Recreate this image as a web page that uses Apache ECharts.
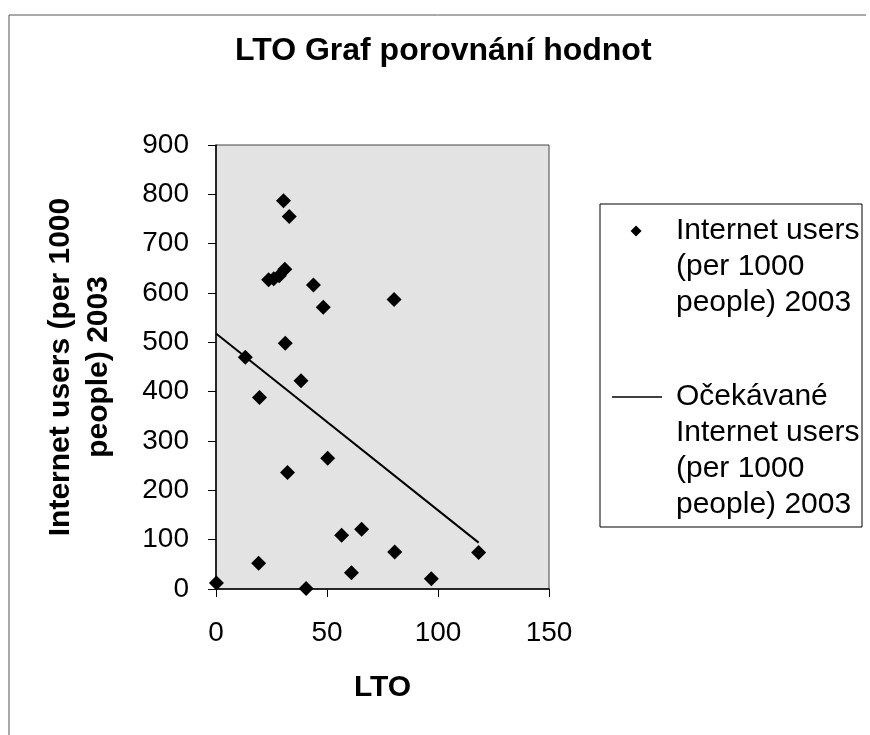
<!DOCTYPE html>
<html>
<head>
<meta charset="utf-8">
<script src="https://cdn.jsdelivr.net/npm/echarts@6/dist/echarts.min.js"></script>
<style>
  html, body { margin: 0; padding: 0; background: #fff; }
  #chart { width: 870px; height: 735px; }
</style>
</head>
<body>
<div id="chart"></div>
<script>
// LTO vs internet users
const lto = [0.2, 13.2, 19.2, 19.6, 23.7, 26, 28.5, 31, 30.4, 33, 31.2, 32.2, 38.3, 40.6, 43.9, 48.3, 50.3, 56.6, 61, 65.6, 80.2, 80.5, 97, 118.3]
const users = [12, 470, 52, 388, 627, 629, 635, 648, 787, 755, 498, 236, 422, 1, 616, 571, 265, 109, 33, 121, 587, 75, 21, 74]

// expected values (trend line)
const trendX = [0, 118.3]
const trendY = [518, 94]

const xTicks = [0, 50, 100, 150]
const yTicks = [0, 100, 200, 300, 400, 500, 600, 700, 800, 900]

const seriesNames = ['Internet users (per 1000 people) 2003', 'Očekávané Internet users (per 1000 people) 2003']
// leading empty lines keep the icon level with the first text line
const legendLabels = ['\n\nInternet users\n(per 1000\npeople) 2003', '\n\n\nOčekávané\nInternet users\n(per 1000\npeople) 2003']

const font = '"Liberation Sans", Arial, sans-serif'

let myChart = echarts.init(document.getElementById('chart'))

myChart.setOption({
  animation: false,
  backgroundColor: '#fff',
  textStyle: { fontFamily: font, color: '#000' },
  title: {
    text: 'LTO Graf porovnání hodnot',
    left: 235,
    top: 35,
    padding: 0,
    textStyle: { fontFamily: font, fontSize: 32, fontWeight: 'bold', color: '#000' }
  },
  grid: {
    left: 216,
    top: 145,
    right: 321,
    bottom: 146,
    containLabel: false,
    outerBoundsMode: 'none',
    show: true,
    backgroundColor: '#e3e3e3',
    borderColor: '#444',
    borderWidth: 1
  },
  legend: {
    orient: 'vertical',
    left: 612,
    top: 141,
    padding: 0,
    itemGap: -50,
    itemWidth: 50,
    itemHeight: 11,
    itemStyle: { opacity: 1 },
    data: [
      // small diamond in the middle of a 50-wide box
      { name: seriesNames[0], icon: 'path://M0,0M18,5.5L24,-0.5L30,5.5L24,11.5ZM50,11' },
      { name: seriesNames[1], icon: 'path://M0,0H50V1.4H0Z' }
    ],
    formatter: name => legendLabels[seriesNames.indexOf(name)],
    textStyle: { fontFamily: font, fontSize: 30, lineHeight: 36, color: '#000', padding: [0, 0, 0, 9] }
  },
  xAxis: {
    type: 'value',
    min: xTicks[0],
    max: xTicks[xTicks.length - 1],
    interval: 50,
    name: 'LTO',
    nameLocation: 'middle',
    nameGap: 84,
    nameTextStyle: { fontFamily: font, fontSize: 30, fontWeight: 'bold', color: '#000' },
    axisLine: { onZero: false, lineStyle: { color: '#000', width: 1.5 } },
    axisTick: { length: 8, lineStyle: { color: '#000' } },
    axisLabel: { margin: 30, fontFamily: font, fontSize: 28, color: '#000' },
    splitLine: { show: false }
  },
  yAxis: {
    type: 'value',
    min: yTicks[0],
    max: yTicks[yTicks.length - 1],
    interval: 100,
    name: 'Internet users (per 1000\npeople) 2003',
    nameLocation: 'middle',
    nameGap: 98,
    nameTextStyle: { fontFamily: font, fontSize: 30, fontWeight: 'bold', lineHeight: 38, color: '#000', align: 'center' },
    axisLine: { show: true, onZero: false, lineStyle: { color: '#000', width: 1.5 } },
    axisTick: { show: true, length: 8, lineStyle: { color: '#000' } },
    axisLabel: { margin: 27, fontFamily: font, fontSize: 28, color: '#000' },
    splitLine: { show: false }
  },
  series: [
    {
      name: seriesNames[0],
      type: 'scatter',
      symbol: 'diamond',
      symbolSize: 15,
      itemStyle: { color: '#000', opacity: 1 },
      data: lto.map((x, i) => [x, users[i]])
    },
    {
      name: seriesNames[1],
      type: 'line',
      symbol: 'none',
      lineStyle: { color: '#000', width: 2 },
      itemStyle: { color: '#000' },
      data: trendX.map((x, i) => [x, trendY[i]])
    }
  ],
  graphic: [
    {
      type: 'rect',
      shape: { x: 600, y: 204, width: 262, height: 323 },
      style: { fill: 'none', stroke: '#000', lineWidth: 1 },
      silent: true
    },
    {
      type: 'polyline',
      shape: { points: [[9, 735], [9, 15], [866, 15]] },
      style: { fill: 'none', stroke: '#555', lineWidth: 1 },
      silent: true
    }
  ]
})
</script>
</body>
</html>
